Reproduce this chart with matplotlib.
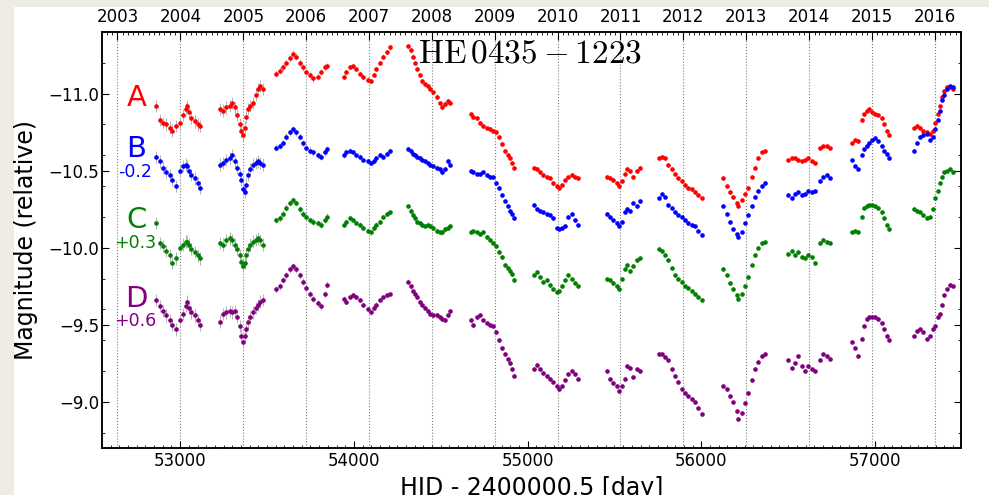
import numpy as np
import pandas as pd
import matplotlib
matplotlib.use('Agg')
import matplotlib.pyplot as plt
from matplotlib.ticker import MultipleLocator
from matplotlib.patches import Rectangle

# observing epochs, HJD - 2400000.5 (shared by all four images)
hjd = [
    52863, 52882, 52901, 52921, 52940, 52955, 52974, 52997, 53016, 53032, 53041, 53051, 53064, 53084, 53103, 53112,
    53231, 53247, 53266, 53285, 53301, 53314, 53327, 53343, 53352, 53362, 53372, 53381, 53391, 53400, 53419, 53439, 53448, 53458, 53477,
    53550, 53573, 53592, 53612, 53631, 53650, 53669, 53688, 53707, 53727, 53746, 53765, 53794, 53813, 53832, 53848,
    53944, 53957, 53976, 53995, 54015, 54034, 54053, 54082, 54101, 54116, 54130, 54149, 54168, 54188, 54207,
    54312, 54328, 54341, 54351, 54366, 54380, 54393, 54408, 54424, 54437, 54456, 54476, 54495, 54508, 54524, 54539, 54552,
    54673, 54687, 54706, 54725, 54744, 54764, 54783, 54802, 54821, 54835, 54850, 54869, 54885, 54898, 54911, 54923,
    55036, 55052, 55071, 55090, 55109, 55128, 55147, 55167, 55182, 55196, 55215, 55234, 55253, 55272, 55291,
    55455, 55474, 55493, 55512, 55527, 55541, 55560, 55574, 55589, 55608, 55628, 55647,
    55758, 55772, 55790, 55810, 55829, 55848, 55867, 55887, 55906, 55925, 55944, 55964, 55983, 56002,
    56127, 56146, 56165, 56185, 56204, 56213, 56233, 56252, 56271, 56290, 56310, 56328, 56348, 56367,
    56501, 56520, 56540, 56559, 56578, 56597, 56617, 56636, 56655, 56684, 56703, 56722, 56742,
    56866, 56885, 56900, 56923, 56938, 56952, 56966, 56981, 57000, 57019, 57039, 57054, 57068, 57081,
    57227, 57241, 57260, 57279, 57298, 57317, 57331, 57346, 57362, 57375, 57388, 57400, 57413, 57432, 57451,
]

# magnitudes as plotted (B, C, D already shifted by -0.2, +0.3, +0.6)
mag_A = [
    -10.92, -10.83, -10.81, -10.80, -10.78, -10.76, -10.79, -10.81, -10.86, -10.90, -10.92, -10.88, -10.84, -10.82, -10.80, -10.79,
    -10.90, -10.89, -10.91, -10.92, -10.94, -10.91, -10.86, -10.80, -10.76, -10.73, -10.78, -10.85, -10.90, -10.92, -10.94, -10.99, -11.03, -11.05, -11.03,
    -11.13, -11.15, -11.17, -11.20, -11.23, -11.26, -11.24, -11.20, -11.17, -11.14, -11.12, -11.10, -11.11, -11.14, -11.17, -11.18,
    -11.11, -11.14, -11.17, -11.18, -11.16, -11.13, -11.11, -11.09, -11.08, -11.12, -11.16, -11.20, -11.24, -11.27, -11.30,
    -11.31, -11.28, -11.24, -11.20, -11.16, -11.12, -11.08, -11.06, -11.05, -11.03, -11.01, -10.98, -10.94, -10.91, -10.93, -10.95, -10.94,
    -10.87, -10.85, -10.84, -10.81, -10.79, -10.78, -10.77, -10.76, -10.75, -10.72, -10.67, -10.63, -10.60, -10.58, -10.55, -10.52,
    -10.52, -10.51, -10.49, -10.47, -10.46, -10.45, -10.42, -10.40, -10.39, -10.41, -10.44, -10.46, -10.47, -10.46, -10.45,
    -10.46, -10.45, -10.44, -10.42, -10.40, -10.43, -10.48, -10.51, -10.50, -10.46, -10.50, -10.52,
    -10.58, -10.59, -10.58, -10.54, -10.51, -10.48, -10.45, -10.43, -10.41, -10.39, -10.38, -10.36, -10.34, -10.32,
    -10.45, -10.40, -10.36, -10.33, -10.29, -10.27, -10.31, -10.35, -10.39, -10.46, -10.52, -10.58, -10.62, -10.63,
    -10.57, -10.58, -10.58, -10.57, -10.56, -10.57, -10.58, -10.56, -10.55, -10.65, -10.66, -10.66, -10.65,
    -10.68, -10.70, -10.69, -10.83, -10.87, -10.89, -10.90, -10.88, -10.87, -10.86, -10.84, -10.80, -10.76, -10.73,
    -10.78, -10.79, -10.78, -10.76, -10.75, -10.74, -10.76, -10.81, -10.87, -10.92, -10.98, -11.02, -11.04, -11.04, -11.03,
]
mag_B = [
    -10.59, -10.56, -10.52, -10.49, -10.47, -10.44, -10.40, -10.50, -10.53, -10.54, -10.53, -10.50, -10.47, -10.45, -10.42, -10.39,
    -10.54, -10.55, -10.57, -10.58, -10.60, -10.56, -10.52, -10.48, -10.44, -10.38, -10.36, -10.41, -10.47, -10.51, -10.54, -10.55, -10.56, -10.55, -10.54,
    -10.65, -10.66, -10.68, -10.72, -10.75, -10.77, -10.75, -10.72, -10.68, -10.65, -10.63, -10.62, -10.60, -10.59, -10.62, -10.64,
    -10.60, -10.62, -10.63, -10.62, -10.60, -10.59, -10.57, -10.56, -10.55, -10.56, -10.58, -10.60, -10.59, -10.61, -10.63,
    -10.64, -10.63, -10.61, -10.60, -10.59, -10.58, -10.57, -10.56, -10.55, -10.54, -10.53, -10.52, -10.51, -10.49, -10.51, -10.56, -10.54,
    -10.50, -10.49, -10.48, -10.48, -10.49, -10.47, -10.46, -10.46, -10.42, -10.39, -10.34, -10.30, -10.27, -10.24, -10.22, -10.19,
    -10.28, -10.25, -10.24, -10.23, -10.22, -10.21, -10.19, -10.13, -10.12, -10.13, -10.14, -10.20, -10.22, -10.18, -10.15,
    -10.22, -10.20, -10.18, -10.16, -10.14, -10.17, -10.23, -10.25, -10.24, -10.29, -10.27, -10.30,
    -10.32, -10.35, -10.33, -10.28, -10.26, -10.23, -10.21, -10.20, -10.18, -10.16, -10.15, -10.14, -10.11, -10.08,
    -10.27, -10.22, -10.17, -10.12, -10.09, -10.07, -10.10, -10.16, -10.21, -10.27, -10.33, -10.37, -10.40, -10.42,
    -10.34, -10.32, -10.35, -10.36, -10.34, -10.35, -10.37, -10.36, -10.37, -10.43, -10.46, -10.47, -10.45,
    -10.57, -10.53, -10.51, -10.60, -10.64, -10.66, -10.68, -10.70, -10.71, -10.69, -10.66, -10.63, -10.61, -10.58,
    -10.63, -10.68, -10.72, -10.73, -10.74, -10.70, -10.72, -10.77, -10.83, -10.89, -10.96, -10.99, -11.03, -11.05, -11.04,
]
mag_C = [
    -10.16, -10.03, -10.01, -9.98, -9.95, -9.90, -9.93, -10.00, -10.02, -10.04, -10.04, -10.02, -9.99, -9.97, -9.95, -9.93,
    -10.03, -10.02, -10.05, -10.06, -10.05, -10.02, -9.99, -9.95, -9.91, -9.88, -9.90, -9.95, -9.99, -10.02, -10.04, -10.05, -10.06, -10.05, -10.02,
    -10.18, -10.19, -10.22, -10.26, -10.29, -10.31, -10.29, -10.25, -10.22, -10.20, -10.18, -10.17, -10.16, -10.15, -10.18, -10.20,
    -10.15, -10.17, -10.19, -10.18, -10.16, -10.15, -10.13, -10.11, -10.10, -10.13, -10.15, -10.17, -10.20, -10.22, -10.23,
    -10.27, -10.24, -10.21, -10.19, -10.17, -10.16, -10.15, -10.14, -10.15, -10.14, -10.13, -10.11, -10.10, -10.10, -10.12, -10.13, -10.14,
    -10.10, -10.11, -10.10, -10.09, -10.10, -10.07, -10.05, -10.03, -10.01, -9.97, -9.94, -9.89, -9.87, -9.85, -9.83, -9.79,
    -9.82, -9.84, -9.81, -9.78, -9.79, -9.76, -9.73, -9.71, -9.72, -9.75, -9.79, -9.82, -9.80, -9.77, -9.75,
    -9.80, -9.79, -9.77, -9.75, -9.73, -9.80, -9.86, -9.89, -9.85, -9.88, -9.92, -9.93,
    -9.99, -9.98, -9.95, -9.92, -9.87, -9.82, -9.80, -9.78, -9.75, -9.74, -9.72, -9.70, -9.68, -9.66,
    -9.86, -9.82, -9.77, -9.73, -9.69, -9.67, -9.70, -9.75, -9.81, -9.89, -9.95, -10.00, -10.03, -10.04,
    -9.96, -9.98, -9.95, -9.97, -9.94, -9.93, -9.95, -9.94, -9.90, -10.03, -10.05, -10.04, -10.03,
    -10.10, -10.11, -10.10, -10.20, -10.26, -10.27, -10.28, -10.28, -10.27, -10.26, -10.23, -10.19, -10.15, -10.12,
    -10.25, -10.24, -10.23, -10.21, -10.19, -10.20, -10.25, -10.32, -10.37, -10.42, -10.46, -10.49, -10.50, -10.51, -10.49,
]
mag_D = [
    -9.66, -9.62, -9.59, -9.56, -9.53, -9.50, -9.47, -9.53, -9.57, -9.62, -9.65, -9.61, -9.58, -9.56, -9.53, -9.50,
    -9.52, -9.57, -9.58, -9.59, -9.58, -9.59, -9.55, -9.49, -9.43, -9.39, -9.43, -9.47, -9.52, -9.55, -9.58, -9.61, -9.63, -9.65, -9.66,
    -9.73, -9.75, -9.79, -9.82, -9.86, -9.88, -9.86, -9.82, -9.78, -9.74, -9.70, -9.67, -9.64, -9.62, -9.70, -9.76,
    -9.67, -9.65, -9.68, -9.69, -9.68, -9.66, -9.63, -9.60, -9.58, -9.61, -9.63, -9.66, -9.68, -9.69, -9.70,
    -9.78, -9.75, -9.72, -9.70, -9.68, -9.65, -9.63, -9.61, -9.59, -9.57, -9.56, -9.56, -9.55, -9.54, -9.53, -9.56, -9.59,
    -9.53, -9.50, -9.55, -9.56, -9.53, -9.51, -9.50, -9.49, -9.45, -9.40, -9.35, -9.31, -9.28, -9.25, -9.21, -9.17,
    -9.21, -9.24, -9.21, -9.19, -9.17, -9.15, -9.13, -9.10, -9.08, -9.10, -9.14, -9.18, -9.20, -9.18, -9.15,
    -9.20, -9.15, -9.12, -9.10, -9.07, -9.10, -9.15, -9.23, -9.22, -9.16, -9.21, -9.20,
    -9.31, -9.31, -9.29, -9.27, -9.21, -9.17, -9.13, -9.08, -9.06, -9.04, -9.02, -9.00, -8.96, -8.92,
    -9.10, -9.08, -9.04, -9.00, -8.94, -8.89, -8.93, -8.99, -9.06, -9.14, -9.21, -9.26, -9.30, -9.31,
    -9.27, -9.22, -9.25, -9.30, -9.23, -9.20, -9.23, -9.21, -9.20, -9.27, -9.31, -9.30, -9.28,
    -9.39, -9.35, -9.30, -9.41, -9.49, -9.54, -9.55, -9.55, -9.55, -9.54, -9.51, -9.47, -9.43, -9.40,
    -9.43, -9.46, -9.47, -9.45, -9.41, -9.43, -9.47, -9.49, -9.55, -9.57, -9.63, -9.69, -9.73, -9.76, -9.75,
]

# typical error bar per observing season
season_start = [52800, 53200, 53500, 53900, 54300, 54650, 55000, 55400, 55700, 56100, 56450, 56850, 57200]
season_err = [0.04, 0.04, 0.022, 0.015, 0.015, 0.012, 0.012, 0.012, 0.01, 0.01, 0.01, 0.01, 0.01]

images = ['A', 'B', 'C', 'D']
shifts = ['', '-0.2', '+0.3', '+0.6']
colors = ['#ff0000', '#0000ff', '#008000', '#800080']
years = list(range(2003, 2017))

plt.rcParams['mathtext.fontset'] = 'cm'
plt.rcParams['xtick.direction'] = 'in'
plt.rcParams['ytick.direction'] = 'in'

fig = plt.figure(figsize=(9.89, 4.95), dpi=100, facecolor='#eeece4')
fig.add_artist(Rectangle((14 / 989, 0), 1, 1 - 7 / 495, transform=fig.transFigure,
                         facecolor='white', edgecolor='none', zorder=-5))
ax = fig.add_axes([102 / 989, 47 / 495, 859 / 989, 416 / 495])

t = np.array(hjd)
err = np.array(season_err)[np.searchsorted(season_start, t, side='right') - 1]

for mags, col in zip([mag_A, mag_B, mag_C, mag_D], colors):
    ax.errorbar(t, mags, yerr=err, fmt='o', ms=2.3, color=col, mec=col,
                ecolor='0.7', elinewidth=0.7, capsize=0, zorder=3)

# image letters and shifts
label_y = [-10.97, -10.64, -10.18, -9.665]
shift_y = [None, -10.494, -10.03, -9.522]
for i in range(4):
    ax.text(52747, label_y[i], images[i], color=colors[i], fontsize=21, ha='center', va='center')
    if shifts[i]:
        ax.text(52740, shift_y[i], shifts[i], color=colors[i], fontsize=12.5, ha='center', va='center')

ax.text(0.368, 0.9255, r'$\mathrm{HE\,0435-1223}$', transform=ax.transAxes,
        fontsize=24, ha='left', va='baseline')

ax.set_xlim(52550, 57495)
ax.set_ylim(-8.7, -11.4)
ax.xaxis.set_major_locator(MultipleLocator(1000))
ax.xaxis.set_minor_locator(MultipleLocator(50))
ax.yaxis.set_major_locator(MultipleLocator(0.5))
ax.yaxis.set_minor_locator(MultipleLocator(0.2))
ax.tick_params(which='both', top=False, right=True, labelsize=12)
ax.tick_params(axis='x', which='major', length=5, pad=2.6)
ax.tick_params(axis='y', which='major', length=5, pad=2)
ax.tick_params(which='minor', length=2.5)

ax.set_xlabel('HJD - 2400000.5 [day]', fontsize=17, va='baseline')
ax.xaxis.set_label_coords(0.5, -47 / 416)
ax.set_ylabel('Magnitude (relative)', fontsize=17, va='center')
ax.yaxis.set_label_coords(-76 / 859, 0.5)

# calendar years on top
ax2 = ax.twiny()
ax2.set_xlim(ax.get_xlim())
year_mjd = pd.to_datetime([f'{y}-01-01' for y in years]).to_julian_date() - 2400000.5
month_mjd = pd.date_range('2002-11-01', '2016-06-01', freq='MS').to_julian_date() - 2400000.5
ax2.set_xticks(year_mjd)
ax2.set_xticklabels([str(y) for y in years])
ax2.set_xticks(month_mjd, minor=True)
ax2.tick_params(which='major', length=6, pad=4.3, labelsize=12)
ax2.tick_params(which='minor', length=2.5)
ax2.grid(True, axis='x', which='major', ls=':', color='0.5', lw=0.8)

# put the year grid behind the points
ax2.set_zorder(ax.get_zorder() - 1)
ax.patch.set_visible(False)

for a in (ax, ax2):
    for s in a.spines.values():
        s.set_linewidth(1.1)

fig.savefig('out.png', dpi=100, facecolor=fig.get_facecolor())
